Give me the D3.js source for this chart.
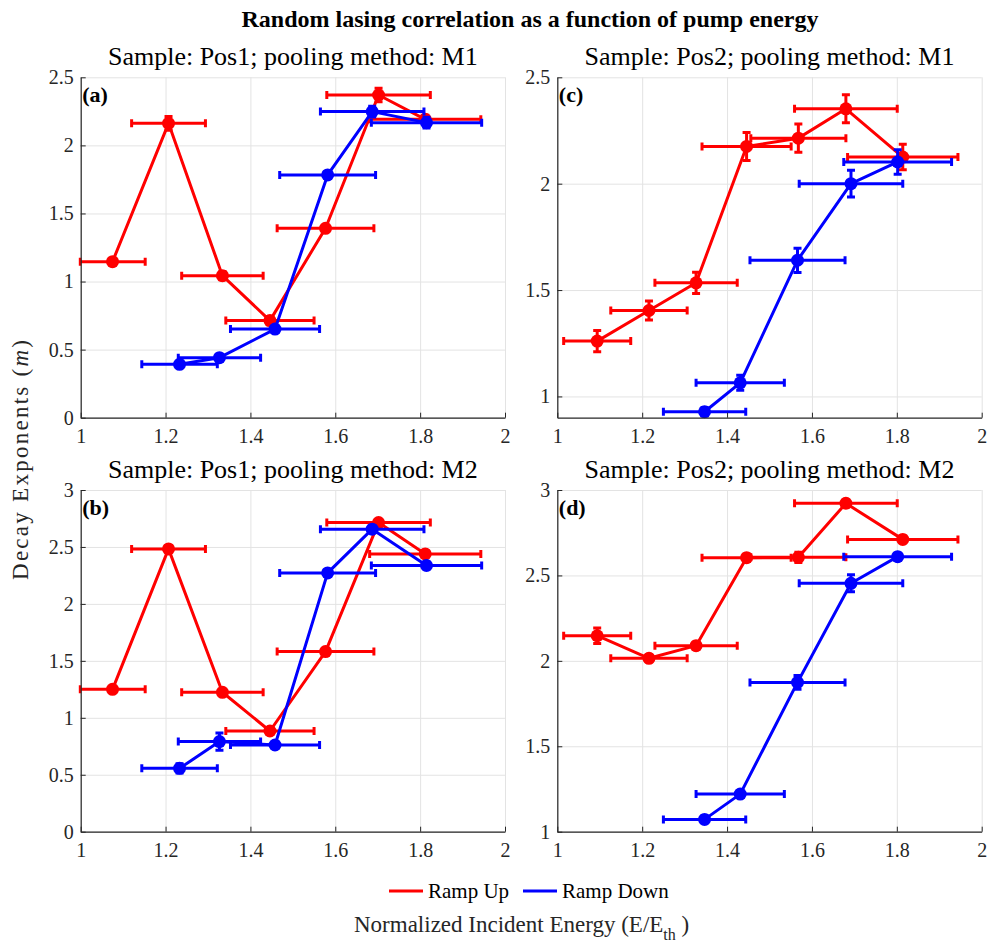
<!DOCTYPE html>
<html><head>
<meta charset="utf-8">
<title>Random lasing correlation</title>
<script src="https://d3js.org/d3.v7.min.js"></script>
<style>
  body { margin: 0; background: #fff; }
  .gridlines line { stroke: #e3e3e3; stroke-width: 1px; }
  .gridlines .domain { stroke: none; }
  .axis .domain { stroke: #262626; stroke-width: 1.2px; }
  .axis line { stroke: #262626; }
</style>
</head>
<body>
<svg id="chart" width="990" height="943"></svg>
<script>

// ---- data ----
// x positions (normalized incident energy) and their half-width errors, shared by both pooling methods
const pos1UpE      = [1.075, 1.207, 1.334, 1.446, 1.577, 1.702, 1.812];
const pos1UpEErr   = [0.077, 0.087, 0.096, 0.104, 0.114, 0.122, 0.131];
const pos1DownE    = [1.233, 1.327, 1.458, 1.582, 1.687, 1.815];
const pos1DownEErr = [0.089, 0.097, 0.105, 0.113, 0.122, 0.130];

const pos2UpE      = [1.094, 1.216, 1.327, 1.446, 1.568, 1.680, 1.814];
const pos2UpEErr   = [0.079, 0.090, 0.097, 0.105, 0.112, 0.121, 0.130];
const pos2DownE    = [1.347, 1.431, 1.566, 1.692, 1.802];
const pos2DownEErr = [0.097, 0.104, 0.112, 0.122, 0.127];

// decay exponents m (and their errors)
const m1Pos1Up      = [1.146, 2.162, 1.043, 0.713, 1.391, 2.370, 2.191];
const m1Pos1UpErr   = [0.02, 0.05, 0.03, 0.03, 0.02, 0.05, 0.03];
const m1Pos1Down    = [0.392, 0.441, 0.651, 1.783, 2.248, 2.167];
const m1Pos1DownErr = [0.02, 0.02, 0.02, 0.02, 0.04, 0.04];

const m2Pos1Up      = [1.250, 2.483, 1.224, 0.884, 1.581, 2.714, 2.439];
const m2Pos1UpErr   = [0.02, 0.02, 0.02, 0.02, 0.02, 0.02, 0.02];
const m2Pos1Down    = [0.556, 0.791, 0.761, 2.272, 2.656, 2.337];
const m2Pos1DownErr = [0.04, 0.075, 0.03, 0.02, 0.03, 0.03];

const m1Pos2Up      = [1.260, 1.404, 1.534, 2.175, 2.214, 2.352, 2.125];
const m1Pos2UpErr   = [0.05, 0.045, 0.05, 0.066, 0.066, 0.066, 0.06];
const m1Pos2Down    = [0.928, 1.064, 1.640, 2.000, 2.102];
const m1Pos2DownErr = [0.02, 0.035, 0.057, 0.063, 0.058];

const m2Pos2Up      = [2.147, 2.015, 2.089, 2.604, 2.606, 2.922, 2.711];
const m2Pos2UpErr   = [0.045, 0.02, 0.02, 0.02, 0.03, 0.02, 0.02];
const m2Pos2Down    = [1.072, 1.220, 1.874, 2.454, 2.610];
const m2Pos2DownErr = [0.02, 0.02, 0.04, 0.05, 0.02];

const xTicks = [1, 1.2, 1.4, 1.6, 1.8, 2];
const seriesNames = ["Ramp Up", "Ramp Down"];
const seriesColors = ["#ff0000", "#0000ff"];

const serif = "'Liberation Serif', serif";

// put the serif font on a text selection, hard
function times(sel) {
  return sel.attr("font-family", serif).style("font-family", serif, "important");
}

// zip helper -> [{x, xe, y, ye}]
function pts(xs, xe, ys, ye) {
  return xs.map((x, i) => ({x: x, xe: xe[i], y: ys[i], ye: ye[i]}));
}

const panels = [
  {label: "(a)", title: "Sample: Pos1; pooling method: M1", yDomain: [0, 2.5], yTicks: [0, 0.5, 1, 1.5, 2, 2.5],
   left: 80.7, top: 77.3, w: 424.3, h: 340.4,
   up: pts(pos1UpE, pos1UpEErr, m1Pos1Up, m1Pos1UpErr), down: pts(pos1DownE, pos1DownEErr, m1Pos1Down, m1Pos1DownErr)},
  {label: "(c)", title: "Sample: Pos2; pooling method: M1", yDomain: [0.9, 2.5], yTicks: [1, 1.5, 2, 2.5],
   left: 557.3, top: 77.3, w: 424.4, h: 340.4,
   up: pts(pos2UpE, pos2UpEErr, m1Pos2Up, m1Pos2UpErr), down: pts(pos2DownE, pos2DownEErr, m1Pos2Down, m1Pos2DownErr)},
  {label: "(b)", title: "Sample: Pos1; pooling method: M2", yDomain: [0, 3], yTicks: [0, 0.5, 1, 1.5, 2, 2.5, 3],
   left: 80.7, top: 490, w: 424.3, h: 341.7,
   up: pts(pos1UpE, pos1UpEErr, m2Pos1Up, m2Pos1UpErr), down: pts(pos1DownE, pos1DownEErr, m2Pos1Down, m2Pos1DownErr)},
  {label: "(d)", title: "Sample: Pos2; pooling method: M2", yDomain: [1, 3], yTicks: [1, 1.5, 2, 2.5, 3],
   left: 557.3, top: 490, w: 424.4, h: 341.7,
   up: pts(pos2UpE, pos2UpEErr, m2Pos2Up, m2Pos2UpErr), down: pts(pos2DownE, pos2DownEErr, m2Pos2Down, m2Pos2DownErr)}
];

const svg = d3.select("svg#chart");
const fmt = d => d3.format("~g")(d);

panels.forEach((p, k) => {
  const g = svg.append("g").attr("transform", "translate(" + p.left + "," + p.top + ")");
  const x = d3.scaleLinear().domain([1, 2]).range([0, p.w]);
  const y = d3.scaleLinear().domain(p.yDomain).range([p.h, 0]);

  // gridlines (axes with no labels, ticks reaching across)
  g.append("g").attr("class", "gridlines")
    .call(d3.axisLeft(y).tickValues(p.yTicks).tickSize(-p.w).tickFormat(""));
  g.append("g").attr("class", "gridlines")
    .attr("transform", "translate(0," + p.h + ")")
    .call(d3.axisBottom(x).tickValues(xTicks).tickSize(-p.h).tickFormat(""));

  // clip so everything stays inside the axes box
  const clipId = "clip" + k;
  g.append("clipPath").attr("id", clipId)
    .append("rect").attr("x", -2).attr("y", -2).attr("width", p.w + 4).attr("height", p.h + 4);
  const plot = g.append("g").attr("clip-path", "url(#" + clipId + ")");

  [p.up, p.down].forEach((data, s) => {
    const col = seriesColors[s];
    const cap = 4;
    const eb = plot.append("g").attr("stroke", col).attr("stroke-width", 3).attr("fill", "none");
    data.forEach(d => {
      const cx = x(d.x), cy = y(d.y);
      const x0 = x(d.x - d.xe), x1 = x(d.x + d.xe);
      const y0 = y(d.y - d.ye), y1 = y(d.y + d.ye);
      eb.append("line").attr("x1", x0).attr("x2", x1).attr("y1", cy).attr("y2", cy);
      eb.append("line").attr("x1", x0).attr("x2", x0).attr("y1", cy - cap).attr("y2", cy + cap);
      eb.append("line").attr("x1", x1).attr("x2", x1).attr("y1", cy - cap).attr("y2", cy + cap);
      eb.append("line").attr("x1", cx).attr("x2", cx).attr("y1", y0).attr("y2", y1);
      eb.append("line").attr("x1", cx - cap).attr("x2", cx + cap).attr("y1", y0).attr("y2", y0);
      eb.append("line").attr("x1", cx - cap).attr("x2", cx + cap).attr("y1", y1).attr("y2", y1);
    });
    plot.append("path").datum(data)
      .attr("fill", "none").attr("stroke", col).attr("stroke-width", 3).attr("stroke-linejoin", "round")
      .attr("d", d3.line().x(d => x(d.x)).y(d => y(d.y)));
    plot.selectAll(null).data(data).enter().append("circle")
      .attr("cx", d => x(d.x)).attr("cy", d => y(d.y)).attr("r", 6.5)
      .attr("fill", col);
  });

  // axes, MATLAB style inward ticks
  const ya = g.append("g").attr("class", "axis")
    .call(d3.axisLeft(y).tickValues(p.yTicks).tickSizeInner(-5).tickSizeOuter(0).tickPadding(7).tickFormat(fmt));
  times(ya.selectAll("text")).attr("font-size", 20).attr("fill", "#262626");
  const xa = g.append("g").attr("class", "axis")
    .attr("transform", "translate(0," + p.h + ")")
    .call(d3.axisBottom(x).tickValues(xTicks).tickSizeInner(-5).tickSizeOuter(0).tickPadding(11).tickFormat(fmt));
  times(xa.selectAll("text")).attr("font-size", 20).attr("fill", "#262626");

  times(g.append("text")).attr("x", p.w / 2).attr("y", -12)
    .attr("text-anchor", "middle").attr("font-size", 26).attr("fill", "#000")
    .text(p.title);
  times(g.append("text")).attr("x", 1.5).attr("y", 25)
    .attr("font-size", 22).attr("font-weight", "bold").attr("fill", "#000")
    .text(p.label);
});

// figure title
times(svg.append("text")).attr("x", 530).attr("y", 27)
  .attr("text-anchor", "middle").attr("font-size", 24).attr("font-weight", "bold").attr("fill", "#000")
  .text("Random lasing correlation as a function of pump energy");

// y label
const yl = times(svg.append("text")).attr("transform", "translate(28,460) rotate(-90)")
  .attr("text-anchor", "middle").attr("font-size", 23).attr("fill", "#262626")
  .attr("textLength", 240).attr("lengthAdjust", "spacing");
yl.append("tspan").text("Decay Exponents (");
yl.append("tspan").attr("font-style", "italic").text("m");
yl.append("tspan").text(")");

// x label
const xl = times(svg.append("text")).attr("x", 354).attr("y", 932)
  .attr("font-size", 23).attr("fill", "#262626");
xl.append("tspan").text("Normalized Incident Energy (E/E");
xl.append("tspan").attr("dy", 8).attr("font-size", 16).text("th");
xl.append("tspan").attr("dy", -8).text(" )");

// legend
const legendX = [389, 523];
seriesNames.forEach((name, i) => {
  svg.append("line").attr("x1", legendX[i]).attr("x2", legendX[i] + 34)
    .attr("y1", 891).attr("y2", 891).attr("stroke", seriesColors[i]).attr("stroke-width", 3);
  times(svg.append("text")).attr("x", legendX[i] + 39).attr("y", 898)
    .attr("font-size", 21).attr("fill", "#000").text(name);
});

</script>
</body>
</html>
